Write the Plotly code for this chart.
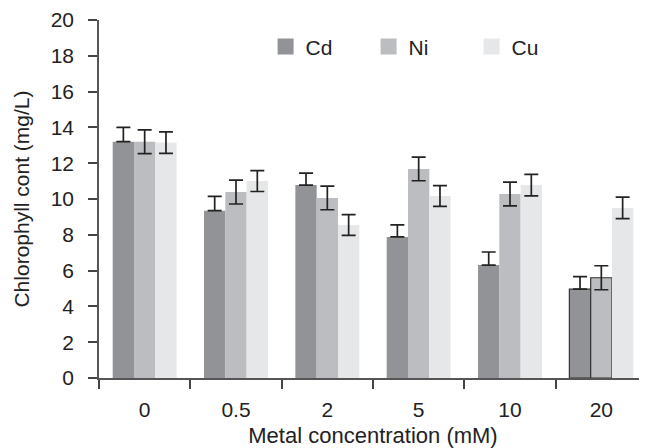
import plotly.graph_objects as go

categories = ["0", "0.5", "2", "5", "10", "20"]
cd_values = [13.2, 9.35, 10.78, 7.88, 6.31, 4.96]
cd_errors = [0.8, 0.8, 0.66, 0.67, 0.73, 0.7]
ni_values = [13.2, 10.39, 10.06, 11.68, 10.28, 5.6]
ni_errors = [0.66, 0.67, 0.66, 0.66, 0.66, 0.67]
cu_values = [13.15, 11.0, 8.55, 10.17, 10.78, 9.5]
cu_errors = [0.6, 0.58, 0.58, 0.58, 0.6, 0.6]

y_ticks = [0, 2, 4, 6, 8, 10, 12, 14, 16, 18, 20]

FONT = "Liberation Sans, Arial, sans-serif"
FS = 21
TXT = "#222222"
colors = {"Cd": "#929396", "Ni": "#bcbdc0", "Cu": "#e6e7e8"}
outlined = {"Cd": [False, False, False, False, False, True],
            "Ni": [False, False, False, False, False, True],
            "Cu": [False] * 6}

fig = go.Figure()
series = [("Cd", cd_values, cd_errors, False),
          ("Ni", ni_values, ni_errors, True),
          ("Cu", cu_values, cu_errors, True)]
for name, vals, errs, sym in series:
    err = dict(type="data", array=errs, color="#222222", thickness=1.7, width=7)
    if not sym:
        err.update(symmetric=False, arrayminus=[0] * len(errs))
    fig.add_trace(go.Bar(
        x=categories, y=vals, name=name, showlegend=False,
        marker=dict(color=colors[name],
                    line=dict(color=["#333333" if o else colors[name] for o in outlined[name]],
                              width=[1.2 if o else 0 for o in outlined[name]])),
        error_y=err,
    ))
for name in ["Cd", "Ni", "Cu"]:
    fig.add_trace(go.Scatter(
        x=[None], y=[None], mode="markers", name=name,
        marker=dict(symbol="square", size=16, color=colors[name]),
    ))

# page body has an 8px default margin, so the figure is sized/offset to compensate
fig.update_layout(
    width=639, height=440,
    margin=dict(l=91, r=0, t=12, b=70),
    paper_bgcolor="white", plot_bgcolor="white",
    barmode="group", bargap=0.3, bargroupgap=0,
    font=dict(family=FONT, size=FS, color=TXT),
    legend=dict(orientation="h", x=0.304, y=0.925, xanchor="left", yanchor="middle",
                entrywidth=58, entrywidthmode="pixels", itemsizing="trace",
                font=dict(family=FONT, size=FS, color=TXT), bgcolor="rgba(0,0,0,0)"),
    xaxis=dict(
        type="category", categoryorder="array", categoryarray=categories,
        range=[-0.5, 5.5], tickson="boundaries", ticks="outside", ticklen=9,
        tickwidth=1.5, tickcolor="#444444", showline=True, linecolor="#555555", linewidth=1.5,
        showgrid=False, zeroline=False, ticklabelstandoff=12, automargin=False,
        title=dict(text="Metal concentration (mM)", standoff=9,
                   font=dict(family=FONT, size=22, color=TXT)),
        tickfont=dict(family=FONT, size=FS, color=TXT),
    ),
    yaxis=dict(
        range=[0, 20], tickvals=y_ticks, ticks="outside", ticklen=9, tickwidth=1.5,
        tickcolor="#444444", showline=True, linecolor="#555555", linewidth=1.5,
        showgrid=False, zeroline=False, ticklabelstandoff=10, automargin=False,
        title=dict(text="Chlorophyll cont (mg/L)", standoff=15,
                   font=dict(family=FONT, size=FS, color=TXT)),
        tickfont=dict(family=FONT, size=FS, color=TXT),
    ),
)

fig.write_html("out.html")
